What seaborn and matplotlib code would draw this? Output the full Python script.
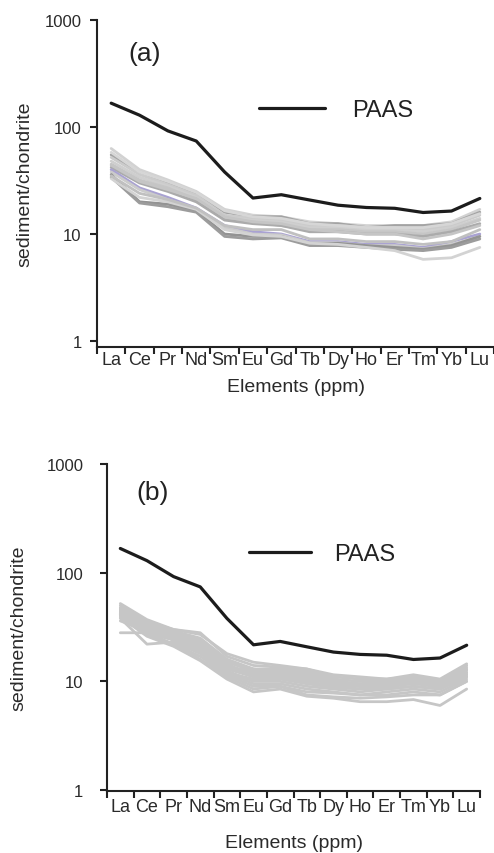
import numpy as np
import pandas as pd
import matplotlib
matplotlib.use("Agg")
import matplotlib.pyplot as plt
import seaborn as sns

sns.set_style("white")
plt.rcParams['font.family'] = ['Liberation Sans', 'DejaVu Sans']

elements = ["La", "Ce", "Pr", "Nd", "Sm", "Eu", "Gd", "Tb", "Dy", "Ho", "Er", "Tm", "Yb", "Lu"]
paas = [167, 129, 92, 74, 38, 21.7, 23.3, 20.8, 18.6, 17.7, 17.4, 15.9, 16.4, 21.5]

samples_a = {
    "a1": [63, 40, 32, 25, 17, 15, 14.5, 13, 12.5, 12, 12, 12, 13, 17],
    "a2": [55, 37, 30, 24, 16, 14.5, 14.5, 12.5, 12.5, 11.5, 12, 12, 12.5, 16],
    "a3": [52, 36, 29, 23, 15, 14, 13.5, 12, 12, 11.5, 11.5, 11, 12, 15],
    "a4": [48, 34, 28, 22, 14.5, 13.5, 13, 11.5, 11.5, 11, 11, 10.5, 11.5, 14],
    "a5": [45, 32, 27, 21, 14, 13, 12, 11, 11, 10.5, 10.5, 10, 11, 13.5],
    "a6": [42, 30, 25, 20, 13.5, 12.5, 12, 10.5, 10.5, 10, 10, 9.5, 10.5, 12.5],
    "a7": [40, 27, 22, 17.5, 12, 10.5, 10, 8.5, 8.5, 8, 8, 7.5, 8.5, 10],
    "a8": [38, 26, 21, 17, 11.5, 10, 9.8, 8.3, 8.3, 7.8, 7.8, 7.3, 8, 9.5],
    "a9": [36, 20, 19, 16.5, 10, 9.5, 9.5, 8, 8.2, 7.8, 7.5, 7.2, 7.8, 9.5],
    "a10": [34, 19.5, 18, 16, 9.5, 9, 9.2, 7.8, 7.8, 7.5, 7.2, 7, 7.5, 9],
    "a11": [33, 22, 20, 17, 11, 9.8, 9.5, 8.2, 8, 7.5, 7, 5.8, 6, 7.5],
    "a12": [35, 24, 21, 17.5, 12, 11, 11, 9, 9, 8.5, 8.5, 8, 8.5, 11],
    "a13": [44, 31, 26, 21.5, 14.5, 13, 12.5, 11, 10.5, 10, 10, 9, 10, 12],
    "a14": [58, 38, 31, 24.5, 16.5, 14.5, 14, 12.5, 12, 11.5, 11.5, 11.5, 12.5, 15.5],
}
colors_a = {
    "a1": "#d2d2d2", "a2": "#a3a3a3", "a3": "#cbcbcb", "a4": "#cfcfcf",
    "a5": "#c6c6c6", "a6": "#ababab", "a7": "#a9a2d2", "a8": "#cbcbcb",
    "a9": "#939393", "a10": "#9c9c9c", "a11": "#d3d3d3", "a12": "#c0c0c0",
    "a13": "#c5c5c5", "a14": "#d6d6d6",
}

samples_b = {
    "b1": [52, 37, 30, 27, 18, 15, 14, 13, 11.5, 11, 10.5, 11.5, 10.5, 14.5],
    "b2": [50, 35, 30, 28, 17, 14, 13.5, 13, 11, 10.5, 10.5, 11, 10, 14],
    "b3": [48, 33, 29, 25, 16, 13, 13, 12.5, 10.5, 10, 10, 11, 10, 13.5],
    "b4": [45, 34, 28, 24, 15, 12.5, 12.5, 12, 10, 9.5, 10, 10.5, 9.5, 13],
    "b5": [43, 32, 27, 22, 14, 12, 12, 11, 10, 9, 9.5, 10, 9.5, 12.5],
    "b6": [42, 30, 26, 21, 13.5, 11.5, 11.5, 10.5, 9.5, 9, 9, 10, 9, 12],
    "b7": [40, 30, 25, 20, 13, 11, 11, 10, 9, 8.5, 9, 9.5, 9, 11.5],
    "b8": [44, 28, 24, 19, 12.5, 10, 10, 9, 8.5, 8, 8.5, 9, 8.5, 11],
    "b9": [38, 22, 23, 18, 12, 9.5, 9.5, 8.5, 8, 7.5, 8, 8.5, 8, 10.5],
    "b10": [28, 28, 22, 17, 11.5, 9, 9, 8, 7.8, 7.5, 7.5, 8, 7.5, 10],
    "b11": [41, 27, 22, 16, 11, 8.5, 9, 7.5, 7.2, 7, 7.2, 7.5, 7.5, 10],
    "b12": [39, 26, 21, 15.5, 10.5, 8, 8.5, 7.3, 7, 6.5, 6.5, 6.8, 6, 8.5],
    "b13": [46, 31, 27, 23, 15, 13, 12, 11.5, 10, 9.5, 9.5, 10.5, 9.8, 12.8],
    "b14": [36, 29, 24, 19, 12, 10.5, 10.5, 9.5, 8.8, 8.5, 8.5, 9, 8.5, 11],
    "b15": [47, 35, 29, 23.5, 15.5, 12.2, 11, 10.5, 9.7, 9.3, 9, 10, 9.2, 12],
    "b16": [42, 31, 26.5, 22, 14.5, 11, 10.7, 9.8, 9.2, 9, 8.8, 9.7, 8.8, 11.5],
}
colors_b = {k: "#c6c6c6" for k in samples_b}

yticks = [1, 10, 100, 1000]
ytick_labels = ["1", "10", "100", "1000"]


def long_df(samples):
    rows = []
    for name, vals in samples.items():
        for i, v in enumerate(vals):
            rows.append({"sample": name, "pos": i, "value": v})
    return pd.DataFrame(rows)


def draw(ax, samples, colors, tag, tag_y, ylim_bottom, legend_anchor, handlelen, textpad,
         xtick_pad, xlabel_pad, ytick_pad, ylabel_pad):
    df = long_df(samples)
    sns.lineplot(data=df, x="pos", y="value", hue="sample", palette=colors,
                 legend=False, linewidth=2.0, ax=ax, estimator=None, sort=False)
    pdf = pd.DataFrame({"pos": np.arange(len(elements)), "value": paas})
    sns.lineplot(data=pdf, x="pos", y="value", color="#1c1c1c", linewidth=2.3,
                 ax=ax, label="PAAS")
    ax.set_yscale("log")
    ax.set_ylim(ylim_bottom, 1000)
    ax.set_xlim(-0.5, len(elements) - 0.5)
    ax.set_yticks(yticks)
    ax.set_yticklabels(ytick_labels, fontsize=12, color="#2a2a2a")
    ax.yaxis.set_minor_locator(matplotlib.ticker.NullLocator())
    ax.set_xticks(np.arange(len(elements) + 1) - 0.5)
    ax.set_xticklabels([])
    ax.set_xticks(np.arange(len(elements)), minor=True)
    ax.set_xticklabels(elements, minor=True, fontsize=13, color="#2a2a2a")
    ax.tick_params(axis="x", which="minor", length=0, pad=xtick_pad)
    ax.tick_params(axis="both", which="major", direction="out", length=5,
                   width=1.5, color="#222222", bottom=True, left=True)
    ax.tick_params(axis="y", which="major", pad=ytick_pad)
    for s in ["top", "right"]:
        ax.spines[s].set_visible(False)
    for s in ["left", "bottom"]:
        ax.spines[s].set_color("#222222")
        ax.spines[s].set_linewidth(1.5)
    ax.set_xlabel("Elements (ppm)", fontsize=14, color="#2a2a2a", labelpad=xlabel_pad)
    ax.set_ylabel("sediment/chondrite", fontsize=14, color="#2a2a2a", labelpad=ylabel_pad)
    ax.text(0.08, tag_y, tag, transform=ax.transAxes, fontsize=19,
            color="#222222", va="center", ha="left")
    leg = ax.legend(loc="center left", bbox_to_anchor=legend_anchor, frameon=False,
                    fontsize=17, handlelength=handlelen, handletextpad=textpad)
    for t in leg.get_texts():
        t.set_color("#222222")


fig = plt.figure(figsize=(4.94, 8.54), dpi=100)
W, H = 494, 854
ax_a = fig.add_axes([97 / W, (H - 348) / H, (494 - 97) / W, (348 - 21) / H])
ax_b = fig.add_axes([107 / W, (H - 792) / H, (480 - 107) / W, (792 - 465) / H])

draw(ax_a, samples_a, colors_a, "(a)", 0.90, 0.88, (0.355, 0.725), 2.8, 1.15,
     xtick_pad=3, xlabel_pad=7, ytick_pad=6, ylabel_pad=8)
draw(ax_b, samples_b, colors_b, "(b)", 0.915, 0.98, (0.325, 0.725), 2.6, 1.0,
     xtick_pad=5, xlabel_pad=14, ytick_pad=12, ylabel_pad=14)

fig.savefig("out.png", dpi=100)
